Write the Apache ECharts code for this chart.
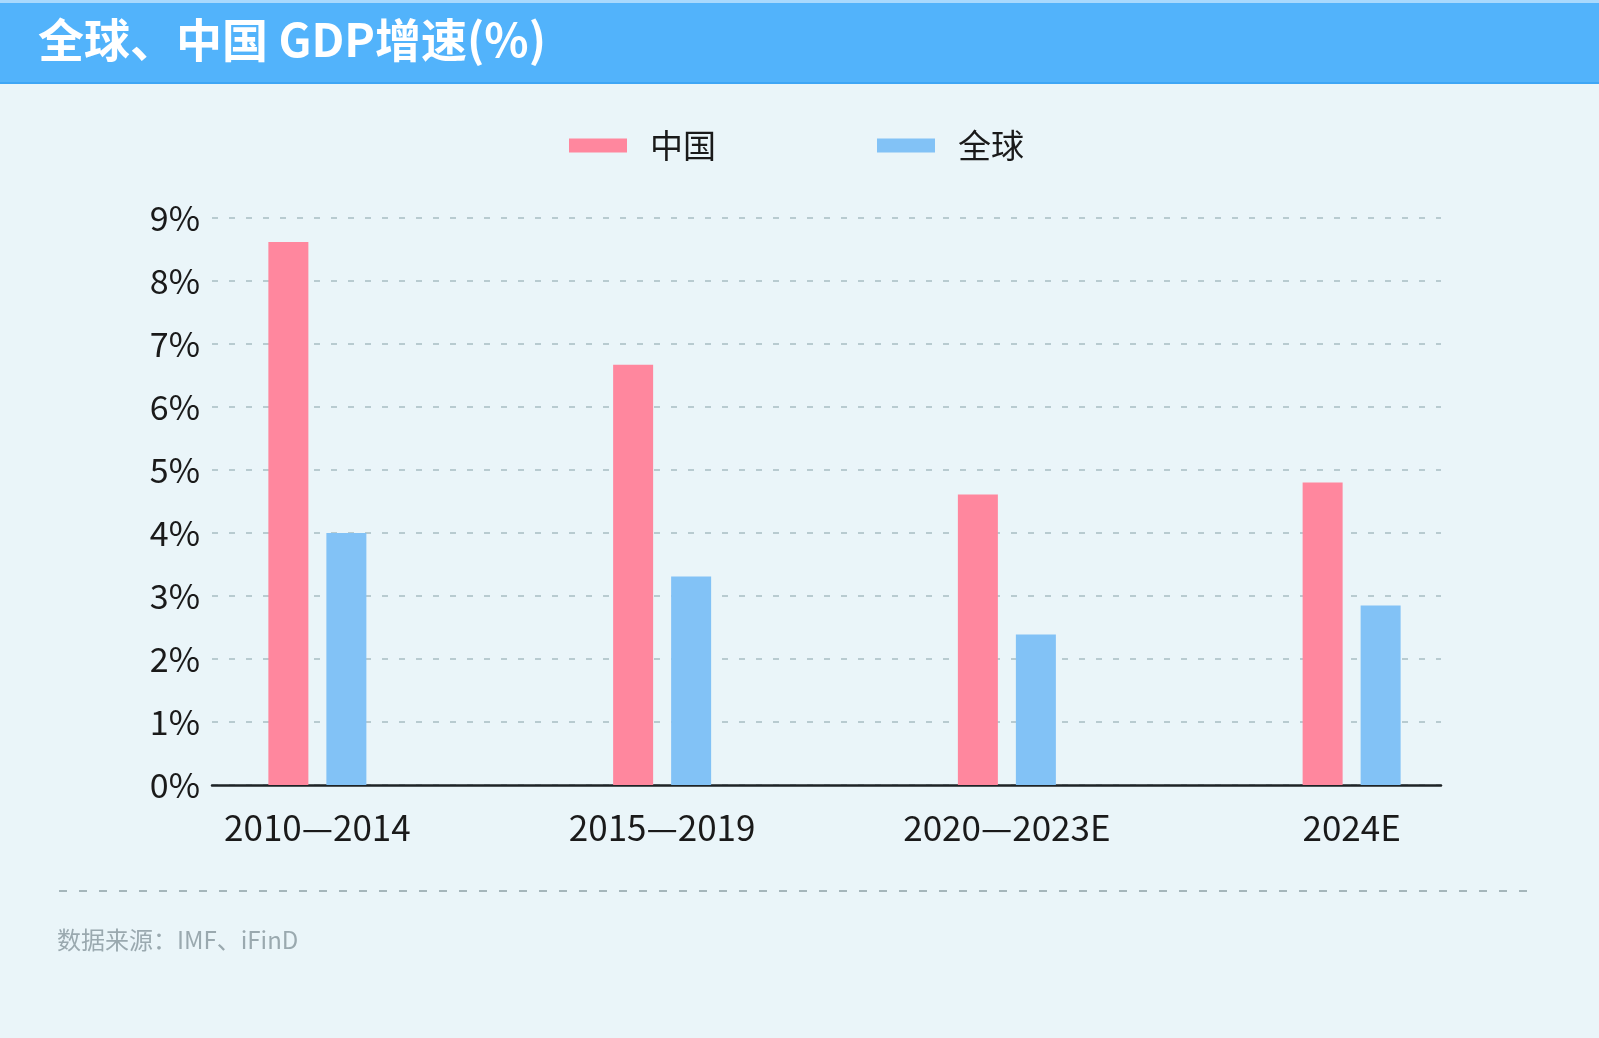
<!DOCTYPE html>
<html>
<head>
<meta charset="utf-8">
<script src="https://cdn.jsdelivr.net/npm/echarts@6/dist/echarts.min.js"></script>
<style>
html,body{margin:0;padding:0;background:#eaf5f9;}
#chart{width:1599px;height:1038px;}
</style>
</head>
<body>
<div id="chart"></div>
<script>
const categories = ['2010—2014', '2015—2019', '2020—2023E', '2024E'];
const chinaValues = [8.62, 6.67, 4.61, 4.8];
const worldValues = [4.0, 3.31, 2.39, 2.85];
const seriesNames = ['中国', '全球'];
const yTicks = [0, 1, 2, 3, 4, 5, 6, 7, 8, 9];
const titleText = '全球、中国 GDP增速(%)';
const sourceText = '数据来源：IMF、iFinD';

const FONT = '"Noto Sans CJK SC", "Noto Sans", sans-serif';
const chart = echarts.init(document.getElementById('chart'), null, {renderer: 'canvas'});
const gridTop = 218, gridBottom = 1038 - 785;

chart.setOption({
  backgroundColor: '#eaf5f9',
  animation: false,
  title: {
    text: titleText,
    left: 33, top: 12,
    textStyle: {color: '#ffffff', fontSize: 46, fontWeight: 'bold', fontFamily: FONT}
  },
  graphic: [
    {type: 'rect', z: -1, shape: {x: 0, y: 0, width: 1599, height: 84}, style: {fill: '#52b3fb'}},
    {type: 'rect', z: -1, shape: {x: 0, y: 0, width: 1599, height: 3}, style: {fill: '#a9d9fd'}},
    {type: 'rect', z: -1, shape: {x: 0, y: 82, width: 1599, height: 2}, style: {fill: '#3fa6f5'}},
    {type: 'line', shape: {x1: 59, y1: 891, x2: 1534, y2: 891},
      style: {stroke: '#8fa1a6', lineWidth: 1.5, lineDash: [8, 12]}},
    {type: 'text', left: 57, top: 928,
      style: {text: sourceText, fontSize: 24, fill: '#9aa9af', fontFamily: FONT}}
  ],
  legend: {
    data: seriesNames,
    left: 564, top: 124,
    itemWidth: 58, itemHeight: 14, itemGap: 161,
    icon: 'rect',
    textStyle: {fontSize: 33, color: '#1a1a1a', fontFamily: FONT, padding: [0, 0, 0, 18]}
  },
  grid: [
    {left: 212, right: 1599 - 1441, top: gridTop, bottom: gridBottom},
    {left: 145, right: 1599 - 1524, top: gridTop, bottom: gridBottom}
  ],
  xAxis: [
    {gridIndex: 0, type: 'category', data: categories,
      axisLine: {show: true, lineStyle: {color: '#1e2326', width: 2.5}},
      axisTick: {show: false}, axisLabel: {show: false}, splitLine: {show: false}},
    {gridIndex: 1, type: 'category', data: categories,
      axisLine: {show: false}, axisTick: {show: false},
      axisLabel: {fontSize: 35, color: '#1a1a1a', margin: 25, fontFamily: FONT}}
  ],
  yAxis: [
    {gridIndex: 0, type: 'value', min: yTicks[0], max: yTicks[yTicks.length - 1], interval: 1,
      axisLine: {show: false}, axisTick: {show: false},
      axisLabel: {formatter: '{value}%', fontSize: 34, color: '#1a1a1a', margin: 12, fontFamily: FONT},
      splitLine: {lineStyle: {type: [6, 11], color: '#a8bdc2', width: 1.5}}},
    {gridIndex: 1, type: 'value', min: yTicks[0], max: yTicks[yTicks.length - 1], interval: 1,
      show: false, splitLine: {show: false}}
  ],
  series: [
    {name: seriesNames[0], type: 'bar', xAxisIndex: 1, yAxisIndex: 1, data: chinaValues,
      barWidth: 40, barGap: '45%', itemStyle: {color: '#ff879e'}, z: 3},
    {name: seriesNames[1], type: 'bar', xAxisIndex: 1, yAxisIndex: 1, data: worldValues,
      barWidth: 40, barGap: '45%', itemStyle: {color: '#82c2f6'}, z: 3}
  ]
});
</script>
</body>
</html>
